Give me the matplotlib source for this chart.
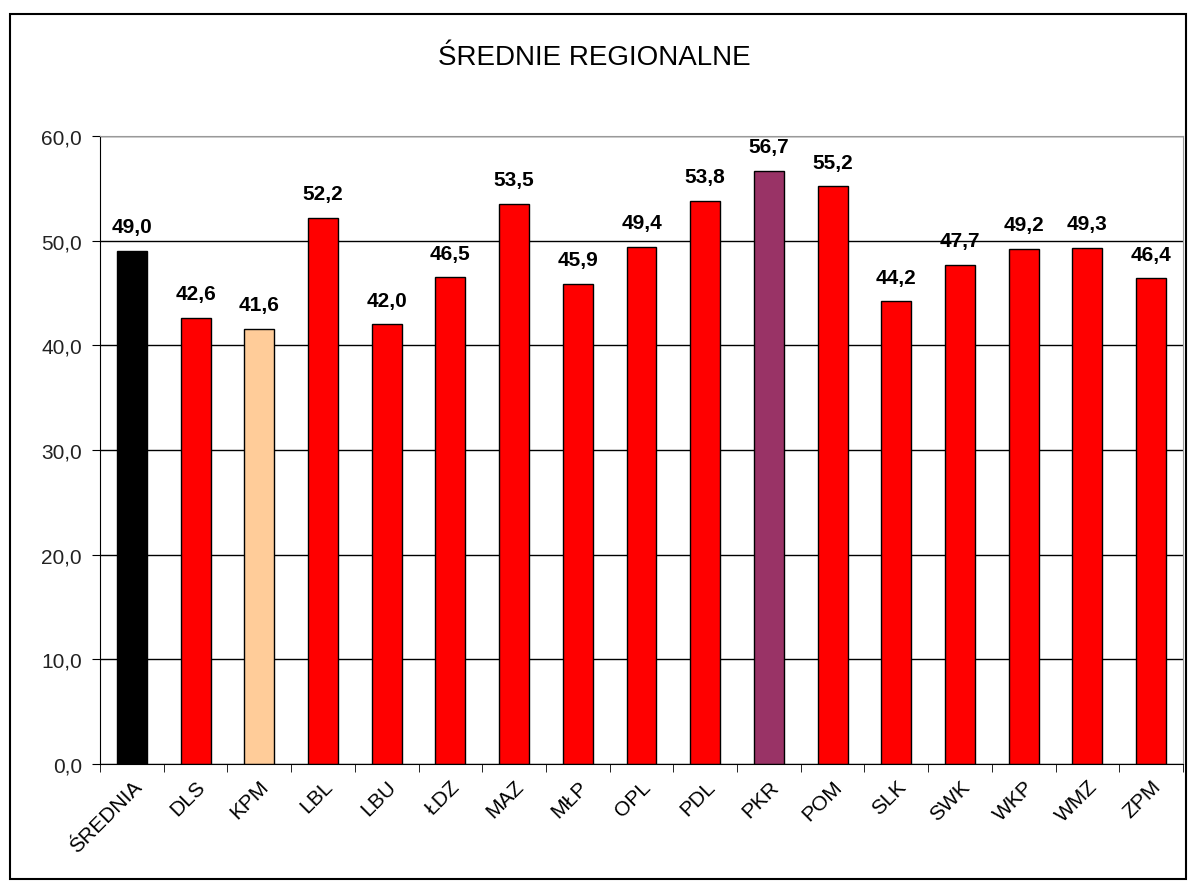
import matplotlib
matplotlib.use("Agg")
import matplotlib.pyplot as plt
from matplotlib.patches import Rectangle

categories = ["ŚREDNIA", "DLS", "KPM", "LBL", "LBU", "ŁDZ", "MAZ", "MŁP", "OPL",
              "PDL", "PKR", "POM", "SLK", "SWK", "WKP", "WMZ", "ZPM"]
values = [49.0, 42.6, 41.6, 52.2, 42.0, 46.5, 53.5, 45.9, 49.4,
          53.8, 56.7, 55.2, 44.2, 47.7, 49.2, 49.3, 46.4]
colors = ["#000000", "#FF0000", "#FFCC99", "#FF0000", "#FF0000", "#FF0000", "#FF0000",
          "#FF0000", "#FF0000", "#FF0000", "#993366", "#FF0000", "#FF0000", "#FF0000",
          "#FF0000", "#FF0000", "#FF0000"]
yticks = [0, 10, 20, 30, 40, 50, 60]

plt.rcParams['font.family'] = ['Liberation Sans', 'DejaVu Sans']

fig = plt.figure(figsize=(11.89, 8.87), dpi=100)
ax = fig.add_axes([100/1189, 1-765/887, (1183-100)/1189, (765-137)/887])

x = list(range(len(categories)))
ax.bar(x, values, width=0.47, color=colors, edgecolor="black", linewidth=1, zorder=3)
for xi, v in zip(x, values):
    ax.text(xi, v + 1.4, f"{v:.1f}".replace(".", ","), ha="center", va="bottom",
            fontsize=15, fontweight="bold", zorder=4)

ax.set_xlim(-0.5, len(categories) - 0.5)
ax.set_ylim(0, 60)
ax.set_yticks(yticks)
ax.set_yticklabels([f"{t:.1f}".replace(".", ",") for t in yticks], fontsize=15, color="#222222")
ax.yaxis.grid(True, color="black", linewidth=1, zorder=0)
ax.set_xticks(x)
ax.set_xticklabels(categories, rotation=45, ha="right", rotation_mode="anchor", fontsize=15)
ax.tick_params(axis="x", length=0, pad=9)
ax.set_xticks([i + 0.5 for i in range(-1, len(categories))], minor=True)
ax.tick_params(axis="x", which="minor", length=6, direction="out")
ax.tick_params(axis="y", length=6, direction="out", pad=7)
ax.spines["top"].set_color("#999999")
ax.spines["right"].set_color("#999999")
for s in ax.spines.values():
    s.set_zorder(5)

fig.text(0.5, 1 - 58/887, "ŚREDNIE REGIONALNE", ha="center", va="center", fontsize=20)

fig.patches.append(Rectangle((10/1189, 1-880/887), (1186-10)/1189, (880-15)/887,
                             transform=fig.transFigure, fill=False, edgecolor="black",
                             linewidth=1.5))

fig.savefig("out.png", dpi=100)
